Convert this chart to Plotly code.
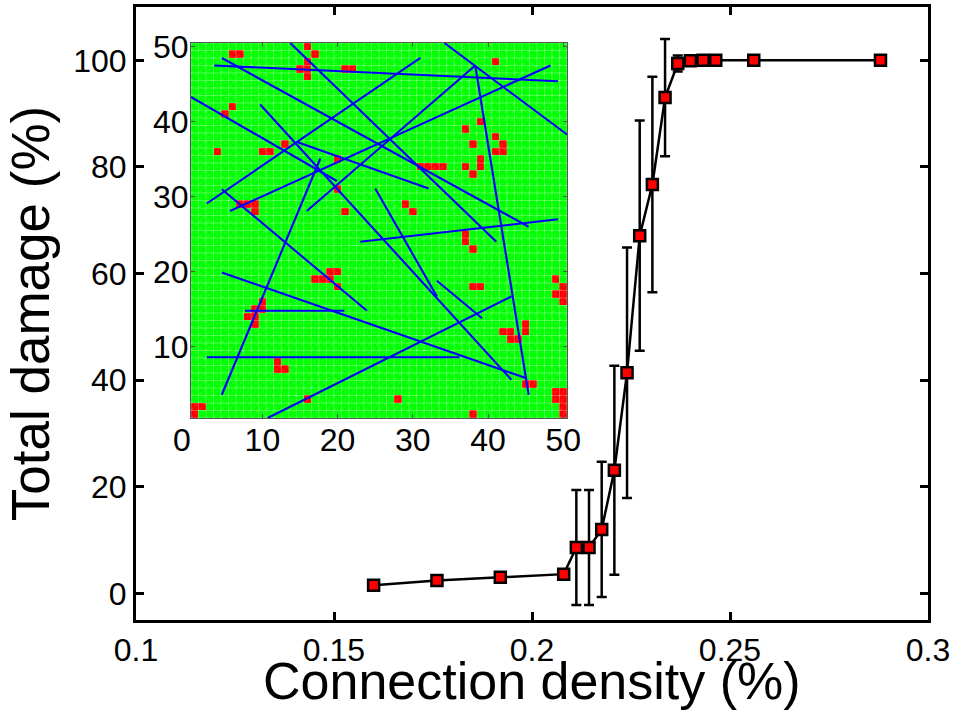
import numpy as np
import plotly.graph_objects as go

# ---------------- main curve data ----------------
density = [0.160, 0.176, 0.192, 0.208, 0.2112, 0.2144, 0.2176, 0.2208, 0.2240,
           0.2272, 0.2304, 0.2336, 0.2368, 0.2400, 0.2432, 0.2464, 0.2560, 0.2880]
damage = [1.5, 2.4, 3.0, 3.6, 8.6, 8.6, 12.0, 23.1, 41.4,
          67.1, 76.7, 93.0, 99.4, 99.9, 100.0, 100.0, 100.0, 100.0]
damage_err = [0, 0, 0, 0, 10.8, 10.8, 12.7, 19.6, 23.5,
              21.6, 20.2, 11.0, 1.5, 0.3, 0.2, 0.1, 0, 0]

x_tickvals = [0.1, 0.15, 0.2, 0.25, 0.3]
x_ticktext = ["0.1", "0.15", "0.2", "0.25", "0.3"]
y_tickvals = [0, 20, 40, 60, 80, 100]
y_ticktext = ["0", "20", "40", "60", "80", "100"]

# ---------------- inset data ----------------
grid_n = 50
# damaged (red) cells: (column, row) with row counted from bottom
red_cols = [6, 7, 16, 17, 16, 15, 16, 16, 21, 22, 6, 5, 4, 10, 11, 13, 20, 20, 7, 8, 9, 9, 21,
            41, 39, 37, 41, 38, 42, 41, 42, 39, 31, 32, 33, 34, 37, 39, 38, 29, 30, 37,
            37, 38, 38, 39, 49, 50, 49, 50, 50, 45, 42, 43, 45, 43, 44, 45, 46, 28, 49, 50, 49, 50, 50, 50, 38,
            19, 20, 17, 18, 19, 20, 10, 9, 10, 8, 9, 9, 12, 12, 13, 16, 1, 2, 1]
red_rows = [49, 49, 50, 49, 48, 47, 47, 46, 47, 47, 42, 41, 36, 36, 36, 37, 35, 31, 29, 29, 29, 28, 28,
            48, 40, 39, 38, 37, 37, 36, 36, 35, 34, 34, 34, 34, 34, 34, 33, 29, 28, 25,
            24, 23, 18, 18, 19, 18, 17, 17, 16, 13, 12, 12, 12, 11, 11, 5, 5, 3, 4, 4, 3, 3, 2, 1, 1,
            20, 20, 19, 19, 19, 18, 16, 15, 15, 14, 14, 13, 8, 7, 7, 3, 2, 2, 1]

# connection segments (blue lines), inset data coordinates
seg_x0 = [3.6, 4.6, 13.7, 34.2, 0.5, 2.6, 5.7, 9.7, 23.0, 14.6,
          38.3, 15.9, 4.6, 17.7, 25.0, 4.6, 7.7, 2.6, 10.7, 33.2]
seg_y0 = [47.5, 48.5, 50.5, 50.5, 43.3, 29.1, 28.1, 42.3, 24.0, 37.3,
          47.5, 28.1, 31.0, 35.1, 31.1, 19.9, 14.8, 8.6, 0.5, 18.8]
seg_x1 = [49.3, 45.4, 41.1, 50.5, 19.9, 31.0, 48.3, 43.1, 49.3, 32.1,
          45.4, 38.3, 23.9, 4.6, 33.2, 45.1, 20.9, 36.2, 43.1, 39.2]
seg_y1 = [45.4, 26.0, 24.0, 38.3, 32.1, 48.5, 47.5, 5.6, 27.0, 31.1,
          3.6, 47.5, 14.8, 3.6, 16.7, 5.8, 14.8, 8.6, 16.7, 13.8]

inset_tickvals = [10, 20, 30, 40, 50]
inset_ticktext = ["10", "20", "30", "40", "50"]

FONT = "Liberation Sans, Arial, Helvetica, sans-serif"

# ---------------- build figure ----------------
fig = go.Figure()

fig.add_trace(go.Scatter(
    x=density, y=damage, mode="lines+markers",
    line=dict(color="black", width=2.5),
    marker=dict(symbol="square", size=11, color="#ff0000",
                line=dict(color="black", width=2.5)),
    error_y=dict(type="data", array=damage_err, color="black", thickness=2.5, width=5),
    xaxis="x", yaxis="y", showlegend=False, hoverinfo="skip"))

# inset heatmap
z = np.zeros((grid_n, grid_n))
for c, r in zip(red_cols, red_rows):
    z[r - 1][c - 1] = 1
cells = list(range(1, grid_n + 1))
fig.add_trace(go.Heatmap(
    z=z, x=cells, y=cells, zmin=0, zmax=1,
    colorscale=[[0, "#00ff00"], [1, "#ff0000"]], showscale=False,
    xaxis="x2", yaxis="y2", hoverinfo="skip"))

# faint cell grid + diagonal hatching (rendering texture)
edges = np.arange(0.5, grid_n + 1, 1.0)
gx, gy = [], []
for e in edges:
    gx += [e, e, None, 0.5, grid_n + 0.5, None]
    gy += [0.5, grid_n + 0.5, None, e, e, None]
fig.add_trace(go.Scatter(x=gx, y=gy, mode="lines",
                         line=dict(color="rgba(255,255,255,0.3)", width=1),
                         xaxis="x2", yaxis="y2", showlegend=False, hoverinfo="skip"))
dx, dy = [], []
for k in range(-(grid_n - 1), grid_n):
    if k >= 0:
        dx += [0.5, grid_n + 0.5 - k, None]
        dy += [0.5 + k, grid_n + 0.5, None]
    else:
        dx += [0.5 - k, grid_n + 0.5, None]
        dy += [0.5, grid_n + 0.5 + k, None]
fig.add_trace(go.Scatter(x=dx, y=dy, mode="lines",
                         line=dict(color="rgba(255,255,255,0.2)", width=1, dash="dot"),
                         xaxis="x2", yaxis="y2", showlegend=False, hoverinfo="skip"))

# blue connection lines
bx, by = [], []
for a, b, c, d in zip(seg_x0, seg_y0, seg_x1, seg_y1):
    bx += [a, c, None]
    by += [b, d, None]
fig.add_trace(go.Scatter(x=bx, y=by, mode="lines",
                         line=dict(color="#0000ff", width=2.1),
                         xaxis="x2", yaxis="y2", showlegend=False, hoverinfo="skip"))

axis_common = dict(showgrid=False, zeroline=False, showline=True, linecolor="black",
                   linewidth=3, mirror="ticks", ticks="inside", ticklen=8, tickwidth=2.5,
                   tickcolor="black", automargin=False,
                   tickfont=dict(family=FONT, size=32, color="black"))

inset_common = dict(range=[0.5, 50.5], tickvals=inset_tickvals, ticktext=inset_ticktext,
                    showgrid=False, zeroline=False, showline=True, linecolor="#555555",
                    linewidth=1, mirror="ticks", ticks="inside", ticklen=4,
                    tickcolor="#555555", automargin=False,
                    tickfont=dict(family=FONT, size=32, color="black"))

fig.update_layout(
    width=953, height=716,
    margin=dict(l=136, r=25, t=7, b=96, autoexpand=False),
    paper_bgcolor="white", plot_bgcolor="white",
    font=dict(family=FONT, color="black"),
    xaxis=dict(range=[0.1, 0.3], tickvals=x_tickvals, ticktext=x_ticktext,
               domain=[0, 1], anchor="y", **axis_common),
    yaxis=dict(range=[-5, 110], tickvals=y_tickvals, ticktext=y_ticktext,
               domain=[0, 1], anchor="x", **axis_common),
    xaxis2=dict(domain=[0.0694, 0.5442], anchor="y2", ticklabelstandoff=-6, **inset_common),
    yaxis2=dict(domain=[0.3295, 0.9413], anchor="x2", ticklabelstandoff=-5, **inset_common),
    annotations=[
        dict(text="Connection density (%)", xref="paper", yref="paper",
             x=0.5, y=-0.1, xanchor="center", yanchor="middle", showarrow=False,
             font=dict(family=FONT, size=52, color="black")),
        dict(text="Total damage (%)", xref="paper", yref="paper",
             x=-0.133, y=0.5, xanchor="center", yanchor="middle", textangle=-90,
             showarrow=False, font=dict(family=FONT, size=53, color="black")),
        dict(text="0", xref="x2 domain", yref="y2 domain", x=-0.025, y=0,
             xanchor="center", yanchor="top", yshift=-2, showarrow=False,
             font=dict(family=FONT, size=32, color="black")),
    ],
)

fig.write_html("out.html",
               config={"displayModeBar": False},
               post_script="document.body.style.margin='0px';document.body.style.padding='0px';")
